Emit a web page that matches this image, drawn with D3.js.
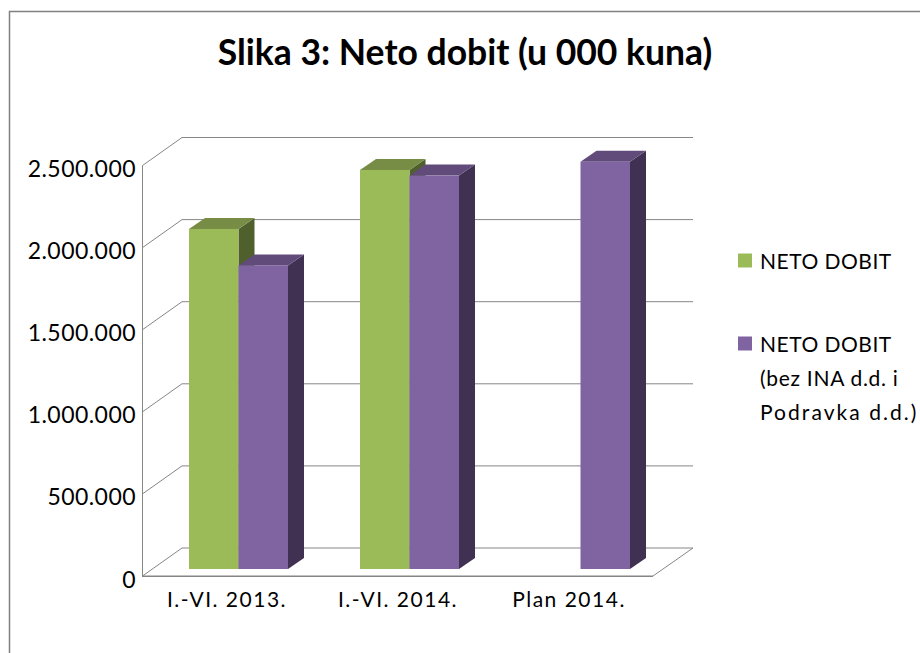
<!DOCTYPE html>
<html><head><meta charset="utf-8">
<script src="https://cdn.jsdelivr.net/npm/d3@7/dist/d3.min.js"></script>
<style>html,body{margin:0;padding:0;background:#fff}svg{display:block}text{font-family:Lato,"Open Sans",sans-serif;fill:#000}</style>
</head><body><svg id="c" width="920" height="653"></svg>
<script>
const categories = ["I.-VI. 2013.", "I.-VI. 2014.", "Plan 2014."];
const netoDobit = [2071000, 2430000, null];
const netoBezIna = [1849000, 2396000, 2480000];
const yTicks = [0, 500000, 1000000, 1500000, 2000000, 2500000];
const yTickLabels = ["0", "500.000", "1.000.000", "1.500.000", "2.000.000", "2.500.000"];
const legendLines = [["NETO DOBIT"], ["NETO DOBIT", "(bez INA d.d. i", "Podravka d.d.)"]];
const legendSpacing = [[.5], [.5, .7, 2.05]];
const seriesValues = [netoDobit, netoBezIna];
const faces = [
  {front:"#9bbb59", top:"#778d45", side:"#4f602d"},
  {front:"#8064a2", top:"#614b7b", side:"#403152"}
];

const svg = d3.select("#c");
const grid = "#868686";
const depth = {x:40, y:-28};
const barDepth = {x:16, y:-11};
const front = {x0:142, x1:653, y0:576, y1:165.5};

svg.append("path").attr("d","M9.5,653V11.5H920").attr("fill","none").attr("stroke","#808080").attr("stroke-width",1.5);

const y = d3.scaleLinear().domain([0,2500000]).range([front.y0, front.y1]);

yTicks.forEach(t=>{
  const v=y(t);
  svg.append("path").attr("fill","none").attr("stroke",grid)
    .attr("d",`M${front.x0+.5},${v}L${front.x0+depth.x},${v+depth.y}H${front.x1+depth.x}`);
});
svg.append("path").attr("fill","none").attr("stroke",grid)
  .attr("d",`M${front.x1+depth.x},${front.y0+depth.y}L${front.x1},${front.y0}`);
svg.append("path").attr("fill","none").attr("stroke",grid)
  .attr("d",`M${front.x0+.5},${front.y1}V${front.y0}`);
svg.append("path").attr("fill","none").attr("stroke",grid).attr("stroke-width",1.5)
  .attr("d",`M${front.x0},${front.y0+.3}H${front.x1}`);

const barPlane = {dx:11, dy:-7};
const x0 = d3.scaleBand().domain(categories).range([front.x0+barPlane.dx, front.x0+barPlane.dx+513]).paddingInner(.421).paddingOuter(.2105);
const x1 = d3.scaleBand().domain(d3.range(seriesValues.length)).range([0,x0.bandwidth()]);
seriesValues.forEach((vals,s)=>{
  vals.forEach((val,i)=>{
    if(val==null) return;
    const g=svg.append("g");
    const l=x0(categories[i])+x1(s), r=l+x1.bandwidth();
    const b=y(0)+barPlane.dy, t=y(val)+barPlane.dy;
    const f=faces[s];
    g.append("path").attr("fill",f.side).attr("d",`M${r},${t}L${r+barDepth.x},${t+barDepth.y}V${b+barDepth.y}L${r},${b}Z`);
    g.append("path").attr("fill",f.top).attr("d",`M${l},${t}L${l+barDepth.x},${t+barDepth.y}H${r+barDepth.x}L${r},${t}Z`);
    g.append("rect").attr("fill",f.front).attr("x",l).attr("y",t).attr("width",r-l).attr("height",b-t);
  });
});

svg.append("text").attr("x",465).attr("y",65).attr("text-anchor","middle")
  .attr("font-size",35.5).attr("font-weight",700).text("Slika 3: Neto dobit (u 000 kuna)");

yTicks.forEach((t,i)=>{
  svg.append("text").attr("x",136).attr("y",y(t)+11.5).attr("text-anchor","end")
    .attr("font-size",23).attr("letter-spacing",.45).text(yTickLabels[i]);
});
categories.forEach(c=>{
  svg.append("text").attr("x",x0(c)+x0.bandwidth()/2-11.5).attr("y",607).attr("text-anchor","middle")
    .attr("font-size",21).attr("letter-spacing",1.5).text(c);
});
const legendY=[262,345];
legendLines.forEach((ls,i)=>{
  svg.append("rect").attr("x",738).attr("y",legendY[i]-8.5).attr("width",14).attr("height",14).attr("fill",faces[i].front);
  ls.forEach((t,k)=>{
    svg.append("text").attr("x",760).attr("y",legendY[i]+7+k*34).attr("font-size",21).attr("letter-spacing",legendSpacing[i][k]).text(t);
  });
});
</script></body></html>
